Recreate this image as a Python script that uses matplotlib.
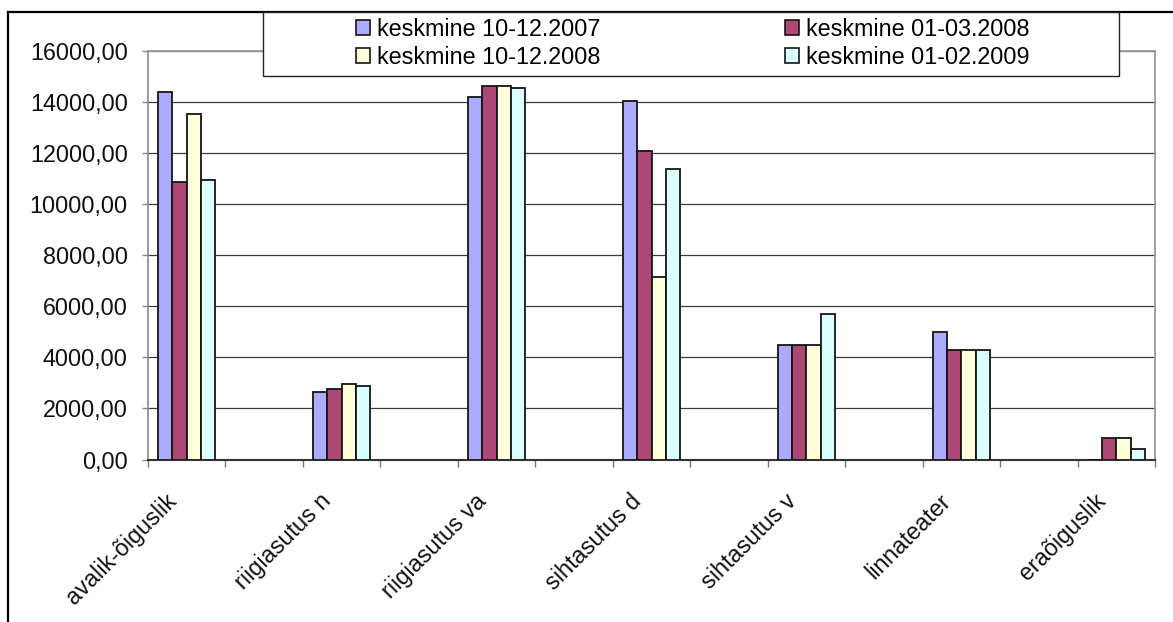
import numpy as np
import matplotlib
matplotlib.use("Agg")
import matplotlib.pyplot as plt
from matplotlib.patches import Patch, Rectangle
from matplotlib.lines import Line2D
from matplotlib.transforms import ScaledTranslation

plt.rcParams['font.family'] = ['Liberation Sans', 'DejaVu Sans']

# Institution types (every other slot on the category axis is left empty)
categories = ["avalik-õiguslik", "riigiasutus n", "riigiasutus va", "sihtasutus d",
              "sihtasutus v", "linnateater", "eraõiguslik"]
series_names = ["keskmine 10-12.2007", "keskmine 01-03.2008",
                "keskmine 10-12.2008", "keskmine 01-02.2009"]
avg_2007_q4 = [14380, 2660, 14200, 14060, 4490, 4990, 0]
avg_2008_q1 = [10880, 2750, 14630, 12080, 4490, 4300, 850]
avg_2008_q4 = [13550, 2950, 14630, 7160, 4490, 4300, 850]
avg_2009_m12 = [10960, 2880, 14560, 11360, 5700, 4300, 420]
series_values = [avg_2007_q4, avg_2008_q1, avg_2008_q4, avg_2009_m12]
colors = ["#ACACFF", "#AC4876", "#FFFFDC", "#DCFFFF"]
y_ticks = np.arange(0, 16001, 2000)

FS = 16.8
W, H = 1173, 622
fig = plt.figure(figsize=(W / 100, H / 100), dpi=100)

# plot area in pixel coordinates
left, right, top, bottom = 148, 1155, 51, 459.5
ax = fig.add_axes([left / W, 1 - bottom / H, (right - left) / W, (bottom - top) / H])

n_slots = 2 * len(categories) - 1
slot_pos = np.arange(len(categories)) * 2 + 0.5
bar_w = 0.185
bars = []
for k, (vals, col, name) in enumerate(zip(series_values, colors, series_names)):
    b = ax.bar(slot_pos + (k - 1.5) * bar_w, vals, width=bar_w, color=col,
               edgecolor="#151515", linewidth=1.3, label=name, zorder=3)
    bars.append(b)

ax.set_xlim(0, n_slots)
ax.set_ylim(0, 16000)
ax.set_yticks(y_ticks)
ax.set_yticklabels([f"{v:.2f}".replace(".", ",") for v in y_ticks], fontsize=FS)
ax.yaxis.grid(True, color="#3c3c3c", linewidth=0.9, zorder=0)
ax.tick_params(axis="y", direction="out", length=4.5, width=1.0, color="#888888",
               pad=10, labelcolor="#111111")
ax.set_xticks(np.arange(0, n_slots + 1))
ax.set_xticklabels([])
ax.tick_params(axis="x", direction="out", length=5, width=1.0, color="#777777")

for side in ("top", "right"):
    ax.spines[side].set_color("#9a9a9a")
    ax.spines[side].set_linewidth(1.3)
ax.spines["left"].set_color("#8a8a8a")
ax.spines["left"].set_linewidth(1.2)
ax.spines["bottom"].set_color("#333333")
ax.spines["bottom"].set_linewidth(1.5)
ax.set_axisbelow(True)

# rotated category labels, right end anchored just left of the group centre
lab_tr = ax.get_xaxis_transform() + ScaledTranslation(-0.22, -0.30, fig.dpi_scale_trans)
for pos, name in zip(slot_pos, categories):
    ax.text(pos, 0, name, transform=lab_tr, rotation=45, rotation_mode="anchor",
            ha="right", va="top", fontsize=FS, color="#111111")

# outer chart border (runs off the right and bottom edges)
fig.add_artist(Line2D([8 / W, 8 / W], [1 - 12 / H, 0], transform=fig.transFigure,
                      color="black", linewidth=1.6))
fig.add_artist(Line2D([8 / W, 1], [1 - 12 / H, 1 - 12 / H], transform=fig.transFigure,
                      color="black", linewidth=1.6))

# legend frame and entries, filled row by row
fig.add_artist(Rectangle((263 / W, 1 - 76 / H), (1119 - 263) / W, (76 - 12) / H,
                         transform=fig.transFigure, facecolor="white",
                         edgecolor="#222222", linewidth=1.0, zorder=5))
handles = [Patch(facecolor=c, edgecolor="#151515", linewidth=1.2) for c in colors]
order = [0, 2, 1, 3]
leg = fig.legend([handles[i] for i in order], [series_names[i] for i in order],
                 ncol=2, loc="upper left",
                 bbox_to_anchor=(356 / W, 1 - 18 / H), frameon=False,
                 fontsize=FS, borderpad=0, borderaxespad=0,
                 handlelength=0.6, handleheight=0.6, handletextpad=0.3,
                 columnspacing=7.9, labelspacing=0.2)
leg.set_zorder(6)

fig.savefig("out.png", dpi=100)
